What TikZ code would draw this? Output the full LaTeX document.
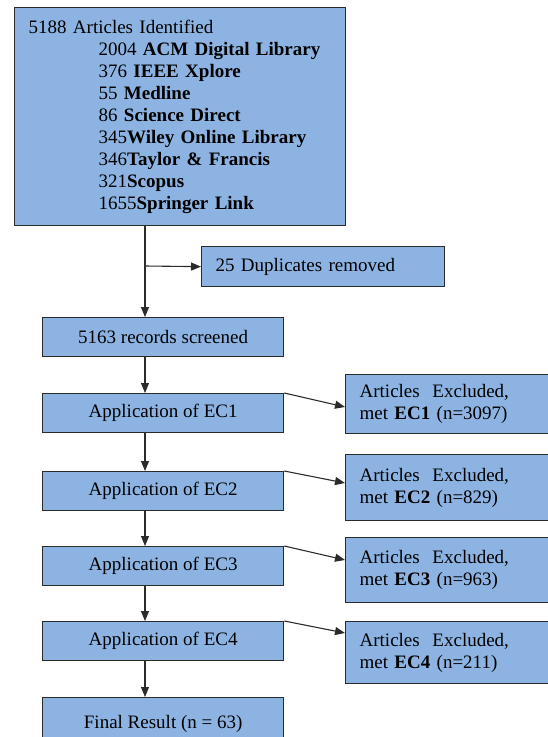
\documentclass[tikz,border=0pt]{standalone}
\usepackage{fontspec}
\setmainfont{Liberation Serif}
\usepackage{xcolor}
\usetikzlibrary{arrows.meta,positioning,calc}
\definecolor{boxblue}{HTML}{8DB3E2}
\definecolor{edgegray}{HTML}{2B2B2B}

\begin{document}
\begin{tikzpicture}[x=1pt, y=-1pt,
  every node/.style={font=\fontsize{19}{22}\selectfont},
  box/.style={draw=edgegray, fill=boxblue, line width=1.3pt,
    inner sep=0pt, anchor=north west},
  srcbox/.style={box, minimum width=331pt, minimum height=218pt,
    text width=303pt, inner xsep=14pt, align=left},
  dupbox/.style={box, minimum height=40pt,
    text width=215pt, inner xsep=14pt, align=left},
  stepbox/.style={box, minimum width=241pt, minimum height=39pt, align=center},
  exbox/.style={box, text width=187pt, inner xsep=14pt, align=left},
  arrow/.style={-{Triangle[length=10pt,width=8pt]}, line width=1.1pt, draw=edgegray},
]
\useasboundingbox (0,0) rectangle (548,737);

% Sources
\node[srcbox] (src) at (14,7) {5188 Articles Identified\\
  \hspace*{70pt}2004 \textbf{ACM Digital Library}\\
  \hspace*{70pt}376 \textbf{IEEE Xplore}\\
  \hspace*{70pt}55 \textbf{Medline}\\
  \hspace*{70pt}86 \textbf{Science Direct}\\
  \hspace*{70pt}345\textbf{Wiley Online Library}\\
  \hspace*{70pt}346\textbf{Taylor \& Francis}\\
  \hspace*{70pt}321\textbf{Scopus}\\
  \hspace*{70pt}1655\textbf{Springer Link}};

% Duplicates
\coordinate (br) at (145,266);
\node[dupbox] (dup) at (201,246) {25 Duplicates removed};
\node[stepbox] (scr) at (42,317) {5163 records screened};
\draw[arrow] (src.south -| br) -- (scr.north -| br);
\draw[arrow] (br) -- (dup.west);

% 1. EC1
\node[stepbox] (ec1) at (42,393) {Application of EC1};
\node[exbox, minimum height=59pt] (ex1) at (345,374)
  {Articles\ \ Excluded,\\met \textbf{EC1} (n=3097)};
\draw[arrow] (scr.south -| br) -- (ec1.north -| br);
\draw[arrow] (ec1.north east) -- ($(ec1.north east -| ex1.west)+(0,14)$);

% 2. EC2
\node[stepbox] (ec2) at (42,471) {Application of EC2};
\node[exbox, minimum height=66pt] (ex2) at (345,454)
  {Articles\ \ Excluded,\\met \textbf{EC2} (n=829)};
\draw[arrow] (ec1.south -| br) -- (ec2.north -| br);
\draw[arrow] (ec2.north east) -- ($(ec2.north east -| ex2.west)+(0,12)$);

% 3. EC3
\node[stepbox] (ec3) at (42,546) {Application of EC3};
\node[exbox, minimum height=65pt] (ex3) at (345,537)
  {Articles\ \ Excluded,\\met \textbf{EC3} (n=963)};
\draw[arrow] (ec2.south -| br) -- (ec3.north -| br);
\draw[arrow] (ec3.north east) -- ($(ec3.north east -| ex3.west)+(0,14)$);

% 4. EC4
\node[stepbox] (ec4) at (42,621) {Application of EC4};
\node[exbox, minimum height=62pt] (ex4) at (345,621)
  {Articles\ \ Excluded,\\met \textbf{EC4} (n=211)};
\draw[arrow] (ec3.south -| br) -- (ec4.north -| br);
\draw[arrow] (ec4.north east) -- ($(ec4.north east -| ex4.west)+(0,12)$);

% Result
\node[stepbox, minimum height=52pt] (fin) at (42,697) {Final Result (n = 63)};
\draw[arrow] (ec4.south -| br) -- (fin.north -| br);

\end{tikzpicture}
\end{document}
